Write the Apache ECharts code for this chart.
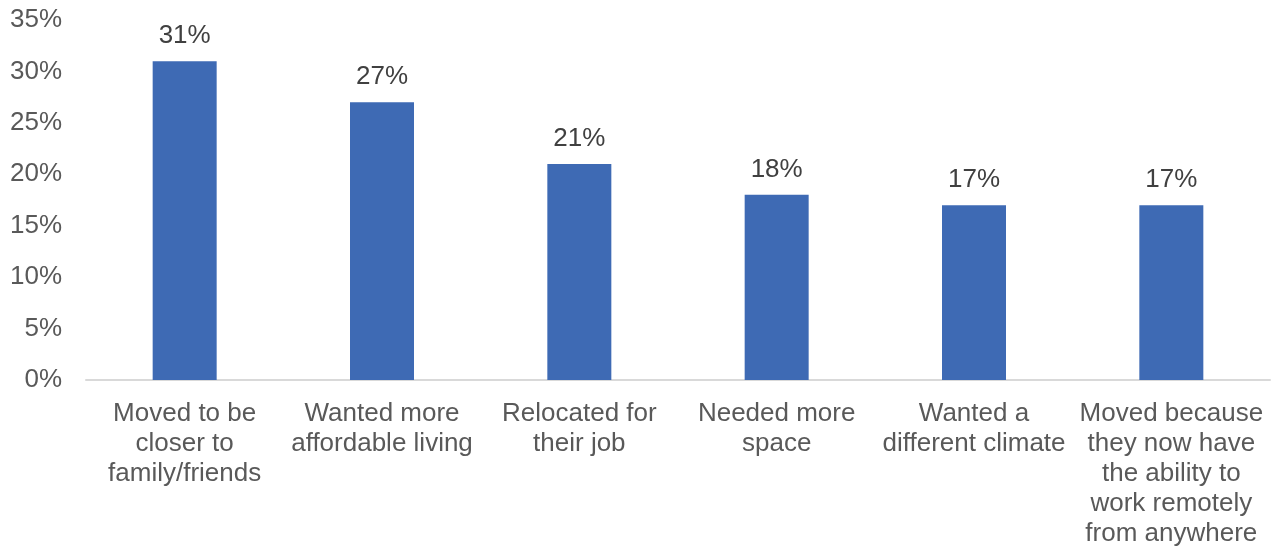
<!DOCTYPE html>
<html><head><meta charset="utf-8">
<script src="https://cdn.jsdelivr.net/npm/echarts@6/dist/echarts.min.js"></script>
<style>html,body{margin:0;padding:0;background:#fff}#c{width:1277px;height:547px}</style>
</head><body><div id="c"></div>
<script>
const categories = ["Moved to be\ncloser to\nfamily/friends", "Wanted more\naffordable living", "Relocated for\ntheir job", "Needed more\nspace", "Wanted a\ndifferent climate", "Moved because\nthey now have\nthe ability to\nwork remotely\nfrom anywhere"];
const values = [31, 27, 21, 18, 17, 17];
const chart = echarts.init(document.getElementById('c'));
chart.setOption({
  animation: false,
  grid: {left: 86, right: 7, top: 20, bottom: 167, containLabel: false, outerBoundsMode: 'none'},
  xAxis: {
    type: 'category', data: categories,
    axisLine: {lineStyle: {color: '#d9d9d9', width: 2}},
    axisTick: {show: false},
    axisLabel: {interval: 0, color: '#595959', fontFamily: 'Liberation Sans, Arial', fontSize: 26, lineHeight: 30, margin: 19}
  },
  yAxis: {
    type: 'value', min: 0, max: 35, interval: 5,
    splitLine: {show: false},
    axisLine: {show: false}, axisTick: {show: false},
    axisLabel: {formatter: '{value}%', color: '#595959', fontFamily: 'Liberation Sans, Arial', fontSize: 26, margin: 24}
  },
  series: [{
    type: 'bar', data: values, barWidth: 64,
    itemStyle: {color: '#3e6ab4'},
    label: {show: true, position: 'top', formatter: '{c}%', color: '#404040', fontFamily: 'Liberation Sans, Arial', fontSize: 26, distance: 12}
  }]
});
</script></body></html>
